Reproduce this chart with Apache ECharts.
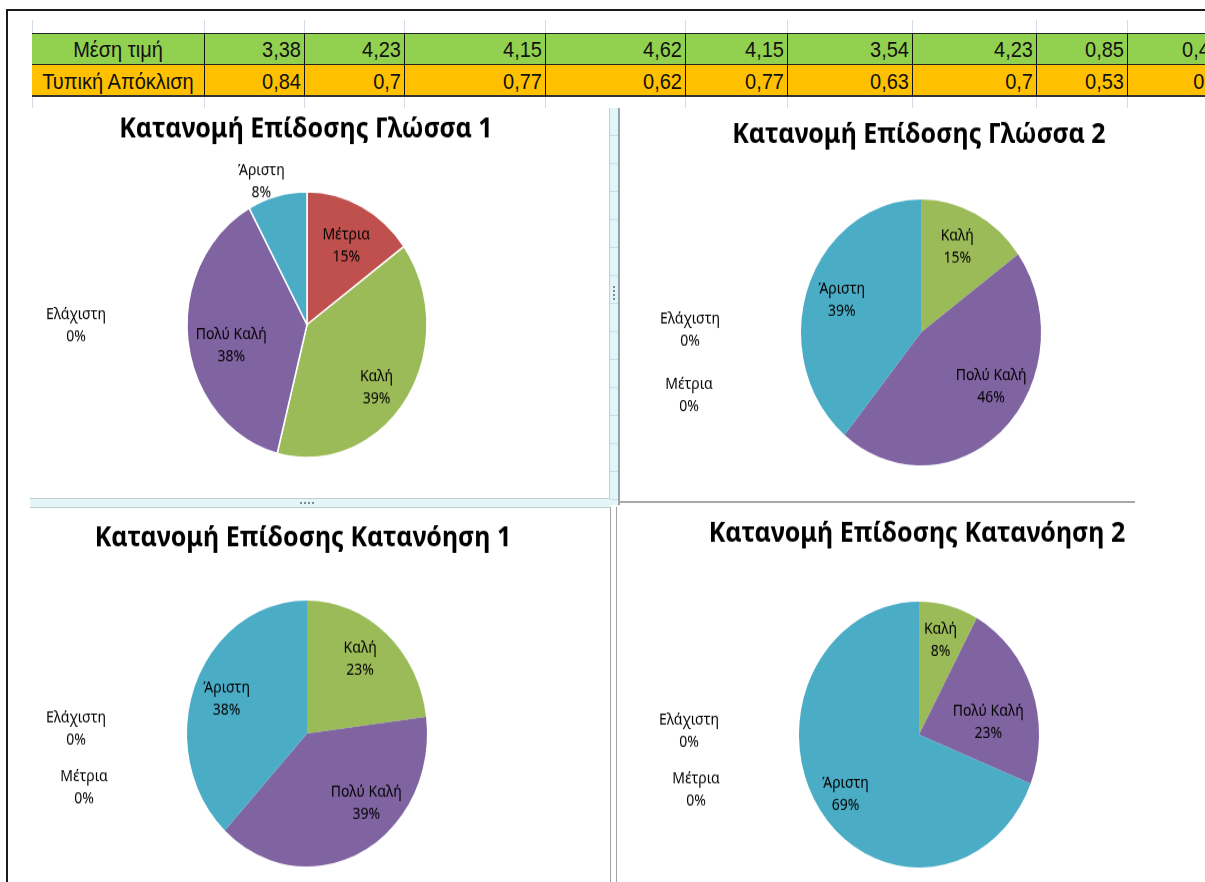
<!DOCTYPE html>
<html>
<head>
<meta charset="utf-8">
<title>Κατανομή Επίδοσης</title>
<script src="https://cdn.jsdelivr.net/npm/echarts@6/dist/echarts.min.js"></script>
<style>
  html, body { margin: 0; padding: 0; background: #fff; }
  body { width: 1205px; height: 882px; overflow: hidden; position: relative; }
  #sheet { position: absolute; left: 0; top: 0; width: 1205px; height: 882px; font-family: "Liberation Sans", Arial, sans-serif; }
  /* the screenshot is stretched vertically, so the chart canvas is too */
  #chart { position: absolute; left: 0; top: 0; width: 1205px; height: 796px; transform: scaleY(1.108); transform-origin: 0 0; }
  .cell { position: absolute; line-height: 32px; font-size: 20px; color: #111; white-space: nowrap; overflow: hidden; box-sizing: border-box; }
  .cell span { display: inline-block; transform: scaleY(1.12); }
</style>
</head>
<body>
<div id="sheet"></div>
<div id="chart"></div>
<script>
  // ---- data ----
  var categories = ['Ελάχιστη', 'Μέτρια', 'Καλή', 'Πολύ Καλή', 'Άριστη'];
  var glossa1 = [0, 15, 39, 38, 8];
  var glossa2 = [0, 0, 15, 46, 39];
  var katanoisi1 = [0, 0, 23, 39, 38];
  var katanoisi2 = [0, 0, 8, 23, 69];
  var chartTitles = ['Κατανομή Επίδοσης Γλώσσα 1', 'Κατανομή Επίδοσης Γλώσσα 2',
                     'Κατανομή Επίδοσης Κατανόηση 1', 'Κατανομή Επίδοσης Κατανόηση 2'];
  var rowLabels = ['Μέση τιμή', 'Τυπική Απόκλιση'];
  var meanValues = [3.38, 4.23, 4.15, 4.62, 4.15, 3.54, 4.23, 0.85, 0.46];
  var sdValues = [0.84, 0.7, 0.77, 0.62, 0.77, 0.63, 0.7, 0.53, 0.5];
  var palette = ['#4F81BD', '#C0504D', '#9BBB59', '#8064A2', '#4BACC6'];

  // ---- spreadsheet background (html) ----
  var colEdges = [32, 204, 304, 404, 545, 685, 787, 912, 1036, 1127, 1224];
  var sheet = document.getElementById('sheet');
  function box(l, t, w, h, css) {
    var d = document.createElement('div');
    d.style.cssText = 'position:absolute;left:' + l + 'px;top:' + t + 'px;width:' + w + 'px;height:' + h + 'px;' + (css || '');
    sheet.appendChild(d);
    return d;
  }
  function cell(l, t, w, text, align) {
    var c = box(l, t, w, 32, 'text-align:' + align + (align === 'right' ? ';padding-right:3px' : ''));
    c.className = 'cell';
    var s = document.createElement('span');
    s.textContent = text;
    c.appendChild(s);
  }
  // outer frame
  box(6, 9, 1199, 2, 'background:#1b1b1b');
  box(6, 9, 2, 873, 'background:#1b1b1b');
  // grid lines above / below the table
  for (var g = 0; g < colEdges.length - 1; g++) {
    box(colEdges[g], 20, 1, 13, 'background:#d3dbe6');
    box(colEdges[g], 97, 1, 11, 'background:#d3dbe6');
  }
  // table rows
  var rows = [
    { label: rowLabels[0], values: meanValues, bg: '#92D050', top: 33 },
    { label: rowLabels[1], values: sdValues, bg: '#FFC000', top: 65 }
  ];
  rows.forEach(function (r) {
    box(32, r.top, 1192, 32, 'background:' + r.bg);
    cell(32, r.top, colEdges[1] - 32, r.label, 'center');
    r.values.forEach(function (v, i) {
      cell(colEdges[i + 1], r.top, colEdges[i + 2] - colEdges[i + 1], String(v).replace('.', ','), 'right');
    });
  });
  box(32, 33, 1192, 1, 'background:#222');
  box(32, 64, 1192, 1, 'background:#222');
  box(32, 95, 1192, 2, 'background:#333');
  for (var e = 1; e < colEdges.length - 1; e++) box(colEdges[e], 33, 1, 63, 'background:#111');

  // chart frames between the four charts
  box(609, 108, 8, 397, 'background:repeating-linear-gradient(to bottom,#e2f5f9 0 27px,#c8e0e6 27px 28px);border-left:1px solid #c3cdd0;border-right:2px solid #96a1a5');
  box(613, 286, 2, 14, 'background:repeating-linear-gradient(to bottom,#7d8a8f 0 2px,transparent 2px 4px)');
  box(30, 498, 580, 8, 'background:#e2f5f9;border-top:1px solid #c3cdd0;border-bottom:1px solid #c3cdd0');
  box(300, 502, 14, 2, 'background:repeating-linear-gradient(to right,#7d8a8f 0 2px,transparent 2px 4px)');
  box(610, 507, 1, 375, 'background:#a3a3a3');
  box(616, 507, 1, 375, 'background:#a3a3a3');
  box(618, 501, 517, 2, 'background:#a8a8a8');

  // ---- pies (echarts) ----
  var R = 120;
  // label nudges per slice (Excel's "best fit" placement is not a clean radial rule)
  var pies = [
    { data: glossa1, cx: 307, cy: 293, tx: 306, ty: 117, border: 1.5, outside: 4,
      zeros: [[-231, 1.5]], nudge: [null, [0, 6], [-2, 8], [10, 8], [-11, 6]] },
    { data: glossa2, cx: 921, cy: 300, tx: 919, ty: 122, border: 0, outside: -1,
      zeros: [[-231, -2], [-232, 57]], nudge: [null, null, [-3, 0], [11, -13.5], [2, 0]] },
    { data: katanoisi1, cx: 307, cy: 662, tx: 303, ty: 486, border: 0, outside: -1,
      zeros: [[-231, -4], [-223, 49]], nudge: [null, null, [-4, -2], [20, -13.5], [0, 1]] },
    { data: katanoisi2, cx: 919, cy: 663, tx: 917, ty: 482, border: 0, outside: -1,
      zeros: [[-230, -3], [-223, 50]], nudge: [null, null, [0, -1], [-12, 18], [-2, 5.4]] }
  ];

  function labelPlacer(p) {
    var total = p.data.reduce(function (a, b) { return a + b; }, 0);
    return function (params) {
      var i = params.dataIndex;
      var v = p.data[i];
      if (v === 0) {
        var z = 0;
        for (var k = 0; k < i; k++) if (p.data[k] === 0) z++;
        return { x: p.cx + p.zeros[z][0], y: p.cy + p.zeros[z][1], align: 'center', verticalAlign: 'middle' };
      }
      var before = 0;
      for (var j = 0; j < i; j++) before += p.data[j];
      var ang = (before + v / 2) / total * Math.PI * 2;
      var f = i === p.outside ? 1.16 : 0.72;
      var n = p.nudge[i] || [0, 0];
      return {
        x: p.cx + f * R * Math.sin(ang) + n[0],
        y: p.cy - f * R * Math.cos(ang) + n[1],
        align: 'center', verticalAlign: 'middle'
      };
    };
  }

  var chart = echarts.init(document.getElementById('chart'));
  chart.setOption({
    animation: false,
    color: palette,
    graphic: pies.map(function (p, i) {
      return {
        type: 'text', x: p.tx, y: p.ty, silent: true,
        style: { text: chartTitles[i], fontFamily: 'Noto Sans', fontSize: 25, fontWeight: 'bold', fill: '#000', align: 'center', verticalAlign: 'middle' }
      };
    }),
    series: pies.map(function (p) {
      return {
        type: 'pie',
        center: [p.cx, p.cy],
        radius: R,
        startAngle: 90,
        clockwise: true,
        silent: true,
        data: categories.map(function (n, i) { return { name: n, value: p.data[i] }; }),
        itemStyle: { borderColor: '#fff', borderWidth: p.border },
        label: {
          show: true, position: 'inside', color: '#000',
          fontFamily: 'Noto Sans', fontSize: 14, lineHeight: 20,
          formatter: function (d) { return d.name + '\n' + d.value + '%'; }
        },
        labelLine: { show: false },
        labelLayout: labelPlacer(p),
        emphasis: { disabled: true }
      };
    })
  });
</script>
</body>
</html>
